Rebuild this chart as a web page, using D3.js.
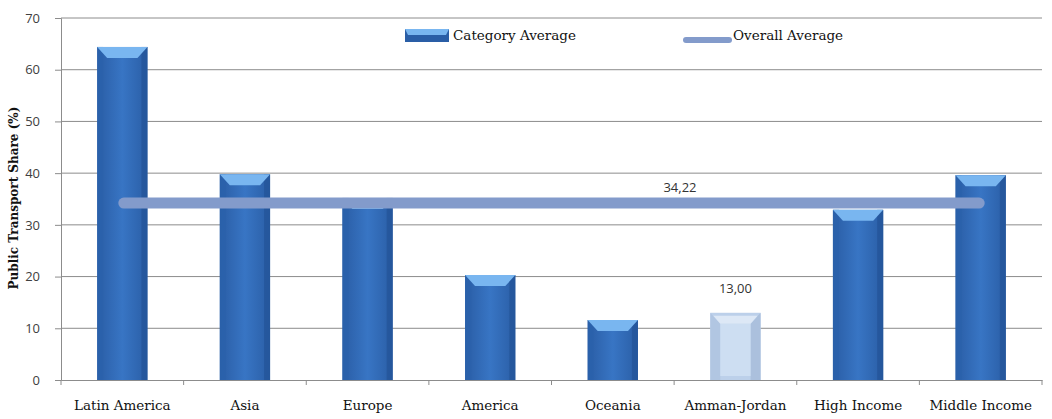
<!DOCTYPE html>
<html><head><meta charset="utf-8">
<script src="https://cdn.jsdelivr.net/npm/d3@7"></script>
<style>body{margin:0;background:#fff}svg{display:block}</style>
</head><body>
<svg id="c" width="1052" height="419"></svg>
<script>
const categories = ["Latin America","Asia","Europe","America","Oceania","Amman-Jordan","High Income","Middle Income"];
const values = [64.4, 39.8, 35.2, 20.3, 11.6, 13.0, 32.9, 39.6];
const highlight = ["Amman-Jordan"];
const overallAverage = 34.22;
const yTicks = [0,10,20,30,40,50,60,70];
const yTitle = "Public Transport Share (%)";
const legendLabels = ["Category Average","Overall Average"];

const svg = d3.select("#c");
const m = {l:61, r:10, t:18, b:39};
const W = 1052, H = 419;
const x = d3.scaleBand().domain(categories).range([m.l, W - m.r]).paddingInner(0.59).paddingOuter(0.295);
const xc = d3.scaleBand().domain(categories).range([m.l, W - m.r]).padding(0);
const y = d3.scaleLinear().domain([0,70]).range([H - m.b, m.t]);

const defs = svg.append("defs");
const g1 = defs.append("linearGradient").attr("id","body").attr("x1",0).attr("x2",1).attr("y1",0).attr("y2",0);
[[0,"#2a5da5"],[0.5,"#3875c4"],[1,"#2a5ea6"]].forEach(s=>g1.append("stop").attr("offset",s[0]).attr("stop-color",s[1]));

// gridlines
svg.append("g").selectAll("line").data(yTicks.filter(d=>d>0)).join("line")
  .attr("x1", m.l).attr("x2", W - m.r).attr("y1", d=>y(d)).attr("y2", d=>y(d))
  .attr("stroke","#8c8c8c").attr("stroke-width",1);

// y axis
const ya = svg.append("g").attr("transform",`translate(${m.l},0)`)
  .call(d3.axisLeft(y).tickValues(yTicks).tickSize(6).tickPadding(15).tickFormat(d3.format("d")));
ya.select(".domain").attr("stroke","#8c8c8c");
ya.selectAll(".tick line").attr("stroke","#8c8c8c");
ya.selectAll("text").attr("font-family","Open Sans, sans-serif").attr("font-size",13).attr("fill","#404040");

// x axis
const xa = svg.append("g").attr("transform",`translate(0,${y(0)})`)
  .call(d3.axisBottom(xc).tickSize(0).tickPadding(20));
xa.select(".domain").attr("stroke","#8c8c8c");
xa.selectAll("text").attr("font-family","DejaVu Serif, serif").attr("font-size",13.5).attr("fill","#111");
svg.append("g").selectAll("line").data(categories).join("line")
  .attr("x1", d=>xc(d)).attr("x2", d=>xc(d)).attr("y1", y(0)).attr("y2", y(0)+5)
  .attr("stroke","#8c8c8c");
svg.append("line").attr("x1",W-m.r).attr("x2",W-m.r).attr("y1",y(0)).attr("y2",y(0)+5).attr("stroke","#8c8c8c");

// bars
const bev = 11, ins = 10, side = 6;
const bars = svg.append("g").selectAll("g").data(categories.map((c,i)=>({c, v:values[i], hl: highlight.includes(c)}))).join("g");
bars.each(function(d){
  const gg = d3.select(this);
  const x0 = x(d.c), w = x.bandwidth(), yt = y(d.v), yb = y(0);
  if (!d.hl) {
    gg.append("rect").attr("x",x0).attr("y",yt).attr("width",w).attr("height",yb-yt).attr("fill","url(#body)");
    gg.append("rect").attr("x",x0).attr("y",yt).attr("width",side).attr("height",yb-yt).attr("fill","#2b62ab").attr("opacity",0.8);
    gg.append("rect").attr("x",x0+w-side).attr("y",yt).attr("width",side).attr("height",yb-yt).attr("fill","#24559a").attr("opacity",0.8);
    gg.append("path").attr("d",`M${x0},${yt}L${x0+w},${yt}L${x0+w-ins},${yt+bev}L${x0+ins},${yt+bev}Z`).attr("fill","#79b6f0");
  } else {
    gg.append("rect").attr("x",x0).attr("y",yt).attr("width",w).attr("height",yb-yt).attr("fill","#bcd0ea");
    gg.append("path").attr("d",`M${x0},${yt}L${x0+ins},${yt+bev}L${x0+ins},${yb}L${x0},${yb}Z`).attr("fill","#b1c6e2");
    gg.append("path").attr("d",`M${x0+w},${yt}L${x0+w-ins},${yt+bev}L${x0+w-ins},${yb}L${x0+w},${yb}Z`).attr("fill","#abc0dd");
    gg.append("rect").attr("x",x0+ins).attr("y",yt+bev).attr("width",w-2*ins).attr("height",yb-yt-bev-4).attr("fill","#cddef2");
    gg.append("path").attr("d",`M${x0+3},${yt+3}L${x0+ins},${yt+bev}L${x0+w-ins},${yt+bev}L${x0+w-3},${yt+3}Z`).attr("fill","#dde8f6");
    gg.append("text").attr("x",x0+w/2).attr("y",yt-20).attr("text-anchor","middle")
      .attr("font-family","Open Sans, sans-serif").attr("font-size",13).attr("fill","#333").text(d3.format(".2f")(d.v).replace(".",","));
  }
});

// overall average line
const first = categories[0], last = categories[categories.length-1];
svg.append("line").attr("x1", xc(first)+xc.bandwidth()/2 + 1.5).attr("x2", xc(last)+xc.bandwidth()/2 - 1.5)
  .attr("y1", y(overallAverage)).attr("y2", y(overallAverage))
  .attr("stroke","#839bcb").attr("stroke-width",11).attr("stroke-linecap","round");
svg.append("text").attr("x", 680).attr("y", y(overallAverage)-11).attr("text-anchor","middle")
  .attr("font-family","Open Sans, sans-serif").attr("font-size",13).attr("fill","#333")
  .text(d3.format(".2f")(overallAverage).replace(".",","));

// y title
svg.append("text").attr("transform",`translate(18,198) rotate(-90)`).attr("text-anchor","middle")
  .attr("font-family","DejaVu Serif, serif").attr("font-weight","bold").attr("font-size",12).attr("fill","#111")
  .text(yTitle);

// legend
const lg = svg.append("g");
lg.append("rect").attr("x",405).attr("y",29).attr("width",44).attr("height",13).attr("fill","#2a5ea6");
lg.append("path").attr("d","M405,29L449,29L446,35L408,35Z").attr("fill","#79b6f0");
lg.append("text").attr("x",453).attr("y",40).attr("font-family","DejaVu Serif, serif").attr("font-size",13.5).attr("fill","#111").text(legendLabels[0]);
lg.append("line").attr("x1",686).attr("x2",729).attr("y1",40).attr("y2",40).attr("stroke","#839bcb").attr("stroke-width",6).attr("stroke-linecap","round");
lg.append("text").attr("x",733).attr("y",40).attr("font-family","DejaVu Serif, serif").attr("font-size",13.5).attr("fill","#111").text(legendLabels[1]);
</script>
</body></html>
